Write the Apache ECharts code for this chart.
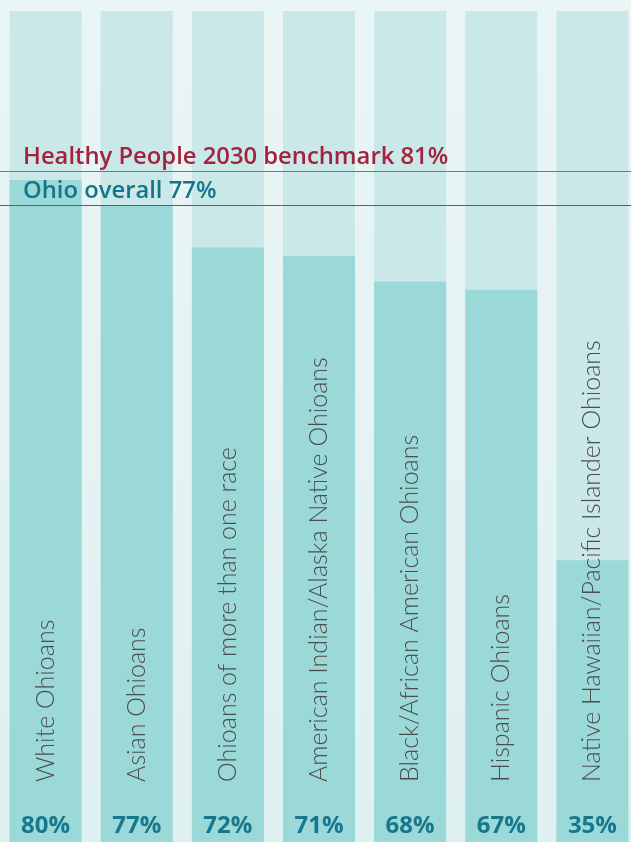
<!DOCTYPE html>
<html>
<head>
<meta charset="utf-8">
<script src="https://cdn.jsdelivr.net/npm/echarts@6/dist/echarts.min.js"></script>
<style>
  html, body { margin: 0; padding: 0; overflow: hidden; }
  #main { width: 640px; height: 860px; }
</style>
</head>
<body>
<div id="main"></div>
<script>
var groups = [
  "White Ohioans",
  "Asian Ohioans",
  "Ohioans of more than one race",
  "American Indian/Alaska Native Ohioans",
  "Black/African American Ohioans",
  "Hispanic Ohioans",
  "Native Hawaiian/Pacific Islander Ohioans"
];
var rates = [80, 77, 72, 71, 68, 67, 35];
var benchmark = 81;
var ohioOverall = 77;

var myChart = echarts.init(document.getElementById("main"));

var option = {
  backgroundColor: new echarts.graphic.LinearGradient(0, 0, 0, 1, [
    { offset: 0, color: "#eaf5f5" },
    { offset: 1, color: "#dff0f0" }
  ]),
  animation: false,
  grid: { left: -1, top: 11, right: 2, bottom: 4 },
  xAxis: {
    type: "category",
    data: groups,
    axisLine: { show: false },
    axisTick: { show: false },
    axisLabel: { show: false }
  },
  yAxis: {
    type: "value",
    min: 0,
    max: 100,
    show: false,
    splitLine: { show: false }
  },
  series: [
    {
      type: "bar",
      data: rates,
      barWidth: 72,
      showBackground: true,
      backgroundStyle: { color: "#cbe8e8" },
      itemStyle: { color: "#9bd8d8" },
      label: {
        show: true,
        position: "insideBottom",
        distance: 18,
        formatter: "{c}%",
        fontFamily: "Open Sans",
        fontWeight: "bold",
        fontSize: 24,
        color: "#17788d"
      },
      markLine: {
        silent: true,
        symbol: "none",
        data: [
          {
            yAxis: benchmark,
            lineStyle: { color: "#b8566d", width: 1, type: "solid" },
            label: {
              formatter: "Healthy People 2030 benchmark " + benchmark + "%",
              color: "#a3223f"
            }
          },
          {
            yAxis: ohioOverall,
            lineStyle: { color: "#1b7a8f", width: 1, type: "solid" },
            label: {
              formatter: "Ohio overall " + ohioOverall + "%",
              color: "#13758a"
            }
          }
        ],
        label: {
          position: "insideStartTop",
          distance: [23, 2],
          fontFamily: "Open Sans",
          fontWeight: 600,
          fontSize: 23.8
        }
      }
    },
    {
      type: "bar",
      data: rates,
      barWidth: 72,
      barGap: "-100%",
      z: 5,
      silent: true,
      itemStyle: { color: "transparent" },
      label: {
        show: true,
        position: "insideBottom",
        rotate: 90,
        align: "left",
        verticalAlign: "middle",
        distance: 74,
        formatter: "{b}",
        fontFamily: "Lato",
        fontWeight: 300,
        fontSize: 25,
        color: "#4d4d4d"
      }
    }
  ]
};

myChart.setOption(option);
</script>
</body>
</html>
